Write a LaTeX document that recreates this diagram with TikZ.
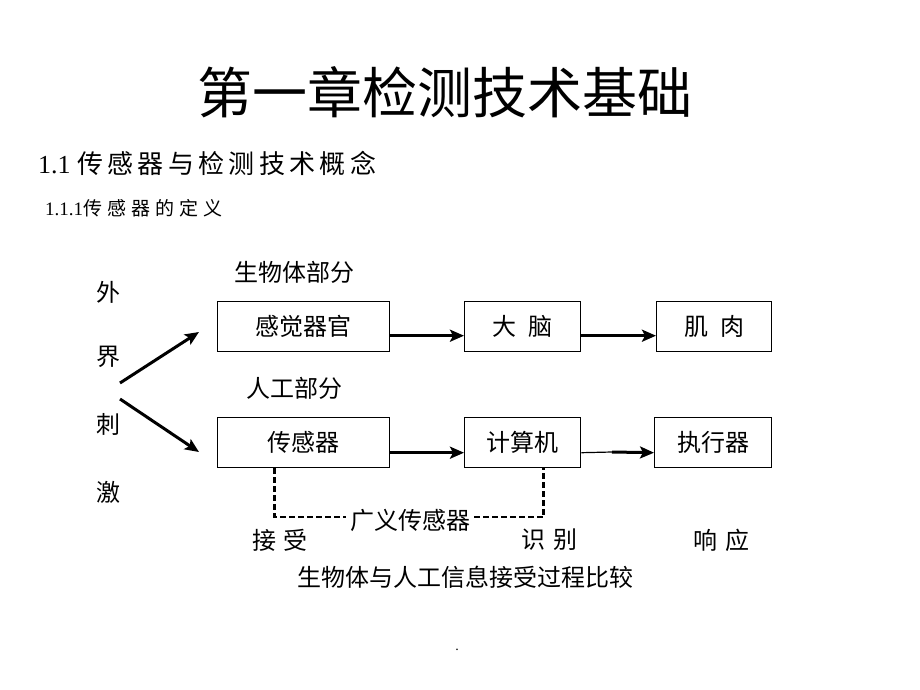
\documentclass[tikz,border=0pt]{standalone}
\usepackage{fontspec}
\setmainfont{Liberation Serif}
\newfontfamily\cjk{Noto Sans CJK SC}
\usetikzlibrary{arrows.meta,positioning}

\begin{document}
\begin{tikzpicture}[x=1pt, y=-1pt, >={Stealth[length=14pt,width=12pt,inset=3pt]},
    every node/.style={inner sep=0pt, font=\cjk\fontsize{24}{24}\selectfont},
    blk/.style={draw, line width=1.4pt, minimum height=50pt, anchor=north west},
    flow/.style={->, line width=3pt},
    thinflow/.style={line width=1.2pt},
    dashline/.style={line width=2.8pt, dash pattern=on 6pt off 3pt}]
  \useasboundingbox (0,0) rectangle (920,690);

  % ================= 标题 =================
  \node (title) at (445,92) {\fontsize{55}{55}\selectfont 第一章检测技术基础};
  \node[anchor=west] (sec) at (38,163) {\fontsize{26}{26}\selectfont\rmfamily 1.1 \cjk 传\,感\,器\,与\,检\,测\,技\,术\,概\,念};
  \node[anchor=west] (subsec) at (45,208) {\fontsize{19}{19}\selectfont\rmfamily 1.1.1\cjk 传\hspace{5pt}感\hspace{5pt}器\hspace{5pt}的\hspace{5pt}定\hspace{5pt}义};

  % ================= 外界刺激 =================
  \node (w1) at (108,292) {外};
  \node (w2) at (108,357) {界};
  \node (w3) at (108,424) {刺};
  \node (w4) at (108,492) {激};

  % ================= 生物体部分 =================
  \node (bio) at (294,272) {生物体部分};
  \node[blk, minimum width=172pt] (organ) at (217,301) {感觉器官};
  \node[blk, minimum width=116pt] (brain) at (464,301) {大\hspace{12pt}脑};
  \node[blk, minimum width=115pt] (muscle) at (656,301) {肌\hspace{12pt}肉};

  % ================= 人工部分 =================
  \node (art) at (294,388) {人工部分};
  \node[blk, minimum width=172pt] (sensor) at (217,417) {传感器};
  \node[blk, minimum width=116pt] (comp) at (464,417) {计算机};
  \node[blk, minimum width=117pt] (act) at (654,417) {执行器};

  % 刺激箭头
  \coordinate (src1) at (120,383);
  \coordinate (src2) at (120,399);
  \coordinate (tip1) at (199,332);
  \coordinate (tip2) at (199,452);
  \draw[flow] (src1) -- (tip1);
  \draw[flow] (src2) -- (tip2);

  % 信息流
  \draw[flow] ([yshift=-9pt]organ.east) -- ([yshift=-9pt]brain.west);
  \draw[flow] ([yshift=-9pt]brain.east) -- ([yshift=-9pt]muscle.west);
  \draw[flow] ([yshift=-10pt]sensor.east) -- ([yshift=-10pt]comp.west);
  \coordinate (mid) at (612,452);
  \draw[thinflow] ([yshift=-10pt]comp.east) -- (mid);
  \draw[flow] (mid) -- ([yshift=-10pt]act.west);

  % ================= 广义传感器 =================
  \node (gsen) at (410,520) {广义传感器};
  \coordinate (dl) at (346,517);
  \coordinate (dr) at (474,517);
  \draw[dashline] ([xshift=-29pt]sensor.south) |- (dl);
  \draw[dashline] (dr) -| ([xshift=21pt]comp.south);

  \node (recv) at (280,540) {接\hspace{8pt}受};
  \node (iden) at (549,540) {识\hspace{8pt}别};
  \node (resp) at (721,540) {响\hspace{8pt}应};
  \node (cap) at (465,577) {生物体与人工信息接受过程比较};

  \node (dot) at (457,650) {\rmfamily\fontsize{14}{14}\selectfont .};
\end{tikzpicture}
\end{document}
